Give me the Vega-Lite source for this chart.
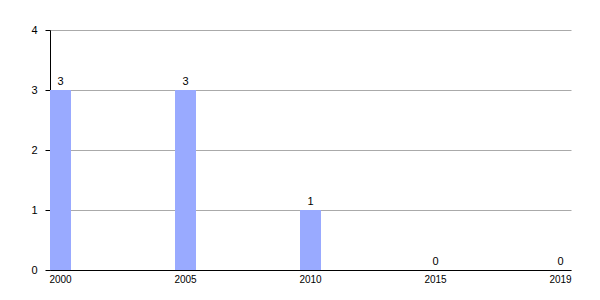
{
  "$schema": "https://vega.github.io/schema/vega-lite/v6.json",
  "width": 521,
  "height": 240,
  "autosize": "none",
  "padding": {"left": 50, "top": 30, "right": 29, "bottom": 30},
  "background": "white",
  "config": {
    "view": {"stroke": null},
    "font": "Liberation Sans",
    "axis": {"labelFont": "Liberation Sans", "labelFontSize": 10, "labelColor": "#000000", "domainColor": "#000000", "tickColor": "#000000", "gridColor": "#aaaaaa"}
  },
  "data": {
    "values": [
      {"year": "2000", "count": 3},
      {"year": "2005", "count": 3},
      {"year": "2010", "count": 1},
      {"year": "2015", "count": 0},
      {"year": "2019", "count": 0}
    ]
  },
  "encoding": {
    "x": {
      "field": "year",
      "type": "ordinal",
      "scale": {"paddingInner": 0.832, "paddingOuter": 0},
      "axis": {"title": null, "labelAngle": 0, "ticks": false, "labelPadding": 4, "grid": false, "domainWidth": 1}
    },
    "y": {
      "field": "count",
      "type": "quantitative",
      "scale": {"domain": [0, 4], "nice": false},
      "axis": {"title": null, "values": [0, 1, 2, 3, 4], "labelOverlap": false, "labelFlush": false, "tickSize": 5, "labelPadding": 8, "grid": true, "gridColor": "#aaaaaa", "labelFontSize": 11}
    }
  },
  "layer": [
    {"mark": {"type": "bar", "color": "#99aaff"}},
    {
      "mark": {"type": "text", "baseline": "bottom", "dy": -3, "fontSize": 11, "color": "#000000"},
      "encoding": {"text": {"field": "count", "type": "quantitative"}}
    }
  ]
}
